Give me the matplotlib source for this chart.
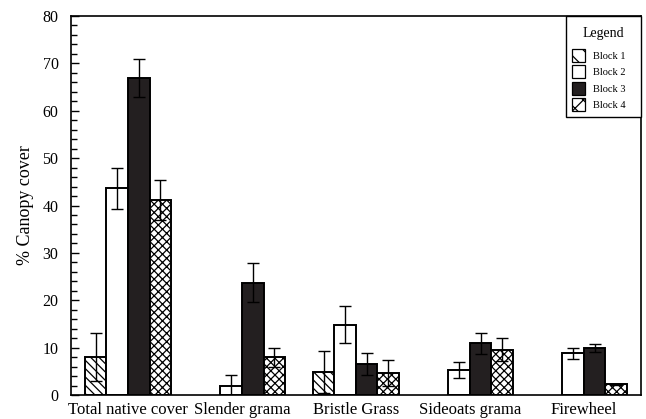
import numpy as np
import matplotlib.pyplot as plt
from matplotlib.ticker import MultipleLocator
from matplotlib.patches import Patch

plt.rcParams['font.family'] = ['Liberation Serif', 'DejaVu Serif']
plt.rcParams['hatch.linewidth'] = 0.9

categories = ["Total native cover", "Slender grama", "Bristle Grass",
              "Sideoats grama", "Firewheel"]
blocks = ["Block 1", "Block 2", "Block 3", "Block 4"]

# mean canopy cover (%) per block, one value per category
block1 = [8.0, 0.0, 4.9, 0.0, 0.0]
block2 = [43.6, 2.0, 14.8, 5.3, 8.8]
block3 = [66.9, 23.7, 6.5, 10.9, 9.85]
block4 = [41.1, 7.95, 4.7, 9.6, 2.25]

# standard errors
err1 = [5.0, 0.0, 4.4, 0.0, 0.0]
err2 = [4.4, 2.3, 3.9, 1.6, 1.2]
err3 = [4.0, 4.1, 2.3, 2.3, 0.85]
err4 = [4.2, 2.0, 2.7, 2.5, 0.2]

means = [block1, block2, block3, block4]
errs = [err1, err2, err3, err4]
fills = ['white', 'white', '#231f20', 'white']
hatches = ['\\\\\\\\', '', '', 'xxxx']

fig, ax = plt.subplots(figsize=(6.46, 4.19), dpi=100)
fig.subplots_adjust(left=0.11, right=0.992, top=0.962, bottom=0.057)

x = np.arange(len(categories)) + 0.5
width = 0.189
for i in range(4):
    pos = x + (i - 1.5) * width
    vals = np.array(means[i])
    e = np.array(errs[i])
    keep = vals > 0
    ax.bar(pos[keep], vals[keep], width, color=fills[i], edgecolor='black',
           linewidth=1.4, hatch=hatches[i], zorder=2)
    ax.errorbar(pos[keep], vals[keep], yerr=e[keep], fmt='none', ecolor='black',
                elinewidth=1.0, capsize=4.3, capthick=1.0, zorder=3)

ax.set_xlim(0, 5)
ax.set_ylim(0, 80)
ax.set_xticks(x)
ax.set_xticklabels(categories, fontsize=12)
ax.tick_params(axis='x', length=0, pad=5)
ax.yaxis.set_major_locator(MultipleLocator(10))
ax.yaxis.set_minor_locator(MultipleLocator(2))
ax.tick_params(axis='y', which='major', direction='in', length=6, width=1.0,
               labelsize=11.5, pad=9)
ax.tick_params(axis='y', which='minor', direction='in', length=4.5, width=1.0)
ax.set_ylabel("% Canopy cover", fontsize=13, labelpad=6)
for s in ax.spines.values():
    s.set_linewidth(1.2)

handles = [Patch(facecolor=fills[i], edgecolor='black', linewidth=0.9,
                 hatch=hatches[i][:2], label=blocks[i]) for i in range(4)]
leg = ax.legend(handles=handles, title="Legend", loc='upper right',
                bbox_to_anchor=(0.869, 0, 0.131, 1), mode='expand',
                fontsize=7.5, title_fontsize=10, fancybox=False,
                edgecolor='black', framealpha=1, borderaxespad=0,
                handlelength=1.3, handleheight=1.6, labelspacing=0.3,
                borderpad=0.52, handletextpad=0.75)
leg.get_frame().set_linewidth(1.0)
# more room between the title and the entries, title nudged down
leg._legend_box.sep = 10.2
leg.get_title().set_position((0, -6))

fig.savefig("out.png", dpi=100)
